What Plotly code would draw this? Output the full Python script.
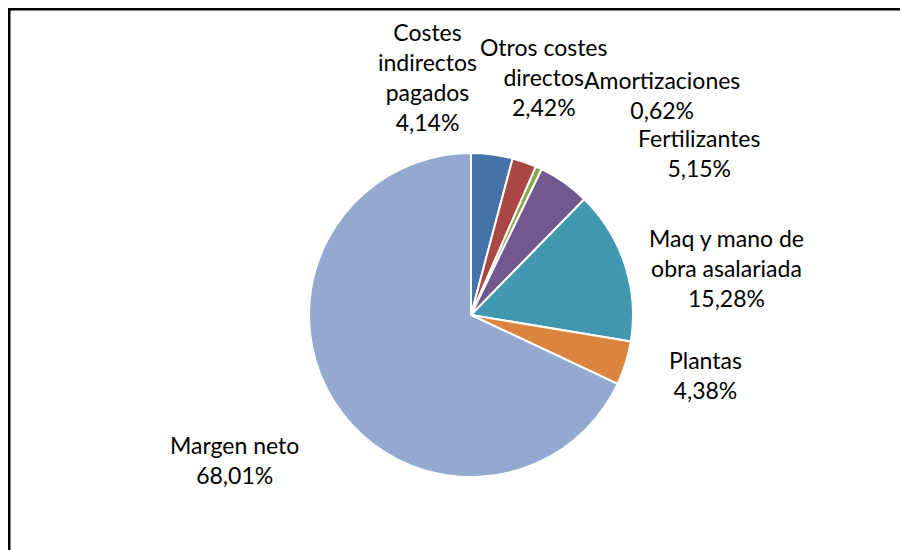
import plotly.graph_objects as go

# datos del gráfico
labels = ["Costes indirectos pagados", "Otros costes directos", "Amortizaciones",
          "Fertilizantes", "Maq y mano de obra asalariada", "Plantas", "Margen neto"]
label_lines = ["Costes<br>indirectos<br>pagados", "Otros costes<br>directos", "Amortizaciones",
               "Fertilizantes", "Maq y mano de<br>obra asalariada", "Plantas", "Margen neto"]
values = [4.14, 2.42, 0.62, 5.15, 15.28, 4.38, 68.01]
colors = ["#4572A7", "#AA4643", "#89A54E", "#71588F", "#4198AF", "#DB843D", "#93A9CF"]

# posiciones de las etiquetas (pixeles de la ventana, la página tiene 8px de margen)
label_pos = [(427, 77), (544, 77), (662, 95), (699, 153), (726, 268), (705, 375), (234, 460)]

W, H = 908, 550
OFF = 8
cx, cy, r = 471 - OFF, 315 - OFF, 162

fig = go.Figure(go.Pie(
    labels=labels, values=values, sort=False, direction="clockwise", rotation=0,
    marker=dict(colors=colors, line=dict(color="white", width=2)),
    textinfo="none", hoverinfo="label+percent", showlegend=False,
    domain=dict(x=[(cx - r) / W, (cx + r) / W], y=[1 - (cy + r) / H, 1 - (cy - r) / H]),
))

for txt, v, (px, py) in zip(label_lines, values, label_pos):
    fig.add_annotation(
        x=(px - OFF) / W, y=1 - (py - OFF) / H, xref="paper", yref="paper",
        text=txt + "<br>" + f"{v:.2f}%".replace(".", ","),
        showarrow=False, xanchor="center", yanchor="middle", align="center",
        font=dict(family="Lato", size=23, color="#000000"),
    )

# marco del gráfico
fig.add_shape(type="rect", xref="paper", yref="paper",
              x0=1.25 / W, x1=1 - 1.25 / W, y0=1.25 / H, y1=1 - 1.25 / H,
              line=dict(color="black", width=2.5))

fig.update_layout(width=W, height=H, margin=dict(l=0, r=0, t=0, b=0),
                  paper_bgcolor="white", plot_bgcolor="white")
fig.write_html("out.html")
